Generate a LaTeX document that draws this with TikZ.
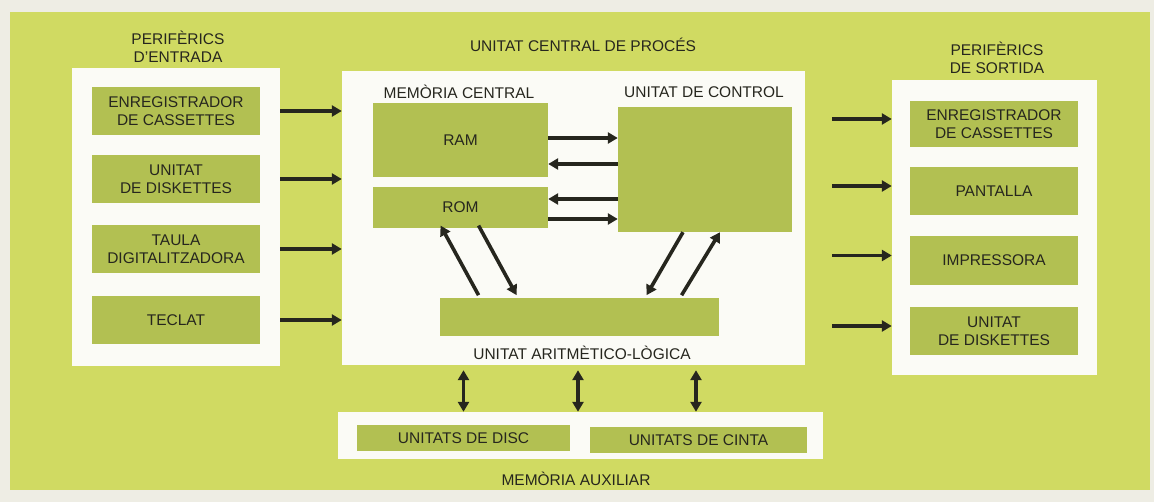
\documentclass[tikz,border=0pt]{standalone}
\usepackage{fontspec}
\setmainfont{Liberation Sans}
\usetikzlibrary{arrows.meta}
\definecolor{paper}{RGB}{238,237,228}
\definecolor{leaf}{RGB}{208,218,98}
\definecolor{olive}{RGB}{178,192,82}
\definecolor{sheet}{RGB}{251,251,246}
\definecolor{ink}{RGB}{38,38,30}

\begin{document}
\begin{tikzpicture}[x=1pt, y=-1pt,
        every node/.style={font=\fontsize{15.5}{17.5}\selectfont, text=ink, align=center},
        panel/.style={fill=sheet, inner sep=0pt},
        unit/.style={fill=olive, inner sep=0pt, minimum width=168pt, minimum height=48pt},
        flow/.style={-{Triangle[length=10pt,width=11pt]}, line width=3.6pt, draw=ink},
        bothflow/.style={{Triangle[length=10pt,width=11pt]}-{Triangle[length=10pt,width=11pt]}, line width=3.6pt, draw=ink}
    ]
        \fill[paper] (0,0) rectangle (1154,502);
        \fill[leaf] (10,12) rectangle (1150,490);

        \node[panel, minimum width=208pt, minimum height=298pt] (inpanel) at (176,217) {};
        \node[panel, minimum width=463pt, minimum height=294pt] (cpu) at (573.5,218) {};
        \node[panel, minimum width=205pt, minimum height=295pt] (outpanel) at (994.5,227.5) {};
        \node[panel, minimum width=485pt, minimum height=47pt] (aux) at (580.5,435.5) {};

        \node (intitle) at (178,47) {PERIFÈRICS\\D'ENTRADA};
        \node (cputitle) at (583,45) {UNITAT CENTRAL DE PROCÉS};
        \node (outtitle) at (997,58) {PERIFÈRICS\\DE SORTIDA};
        \node (auxtitle) at (576,479) {MEMÒRIA AUXILIAR};

        \node[unit] (in1) at (176,111) {ENREGISTRADOR\\DE CASSETTES};
        \node[unit] (in2) at (176,179) {UNITAT\\DE DISKETTES};
        \node[unit] (in3) at (176,249) {TAULA\\DIGITALITZADORA};
        \node[unit] (in4) at (176,320) {TECLAT};

        \node (memtitle) at (459,92) {MEMÒRIA CENTRAL};
        \node (ctrltitle) at (704,92) {UNITAT DE CONTROL};
        \node[unit, minimum width=175pt, minimum height=74pt] (ram) at (460.5,140) {RAM};
        \node[unit, minimum width=175pt, minimum height=41pt] (rom) at (460.5,207.5) {ROM};
        \node[unit, minimum width=174pt, minimum height=125pt] (ctrl) at (705,169.5) {};
        \node[unit, minimum width=279pt, minimum height=38pt] (alu) at (579.5,317) {};
        \node (alutitle) at (582,353) {UNITAT ARITMÈTICO-LÒGICA};

        \node[unit, minimum height=46pt] (out1) at (994,124) {ENREGISTRADOR\\DE CASSETTES};
        \node[unit] (out2) at (994,191) {PANTALLA};
        \node[unit, minimum height=49pt] (out3) at (994,260.5) {IMPRESSORA};
        \node[unit] (out4) at (994,331) {UNITAT\\DE DISKETTES};

        \node[unit, minimum width=213pt, minimum height=26pt] (disc) at (463.5,438) {UNITATS DE DISC};
        \node[unit, minimum width=217pt, minimum height=26pt] (cinta) at (698.5,440) {UNITATS DE CINTA};

        \foreach \i in {in1,in2,in3,in4}
            \draw[flow] (\i.east -| inpanel.east) -- (\i.east -| cpu.west);
        \foreach \o in {out1,out2,out3,out4}
            \draw[flow, shorten <=27pt] ([yshift=5pt]\o.west -| cpu.east) -- ([yshift=5pt]\o.west -| outpanel.west);

        \draw[flow] ([yshift=2pt]ram.east) -- ([yshift=2pt]ram.east -| ctrl.west);
        \draw[flow] ([yshift=-24pt]ram.east -| ctrl.west) -- ([yshift=-24pt]ram.east);
        \draw[flow] ([yshift=8.5pt]rom.east -| ctrl.west) -- ([yshift=8.5pt]rom.east);
        \draw[flow] ([yshift=-11.5pt]rom.east) -- ([yshift=-11.5pt]rom.east -| ctrl.west);

        \draw[flow, shorten <=3pt, shorten >=-3pt] ([xshift=-99.5pt]alu.north) -- ([xshift=-18.5pt]rom.south);
        \draw[flow, shorten <=-3pt, shorten >=3pt] ([xshift=19.5pt]rom.south) -- ([xshift=-61.5pt]alu.north);
        \draw[flow, shorten >=3pt] ([xshift=-22pt]ctrl.south) -- ([xshift=65.5pt]alu.north);
        \draw[flow, shorten <=3pt] ([xshift=100.5pt]alu.north) -- ([xshift=15pt]ctrl.south);

        \draw[bothflow, shorten <=5pt] (disc.north |- cpu.south) -- (disc.north |- aux.north);
        \draw[bothflow, shorten <=5pt] ([xshift=-1.5pt]alu.south |- cpu.south) -- ([xshift=-1.5pt]alu.south |- aux.north);
        \draw[bothflow, shorten <=5pt] ([xshift=-2.5pt]cinta.north |- cpu.south) -- ([xshift=-2.5pt]cinta.north |- aux.north);
    \end{tikzpicture}
\end{document}
